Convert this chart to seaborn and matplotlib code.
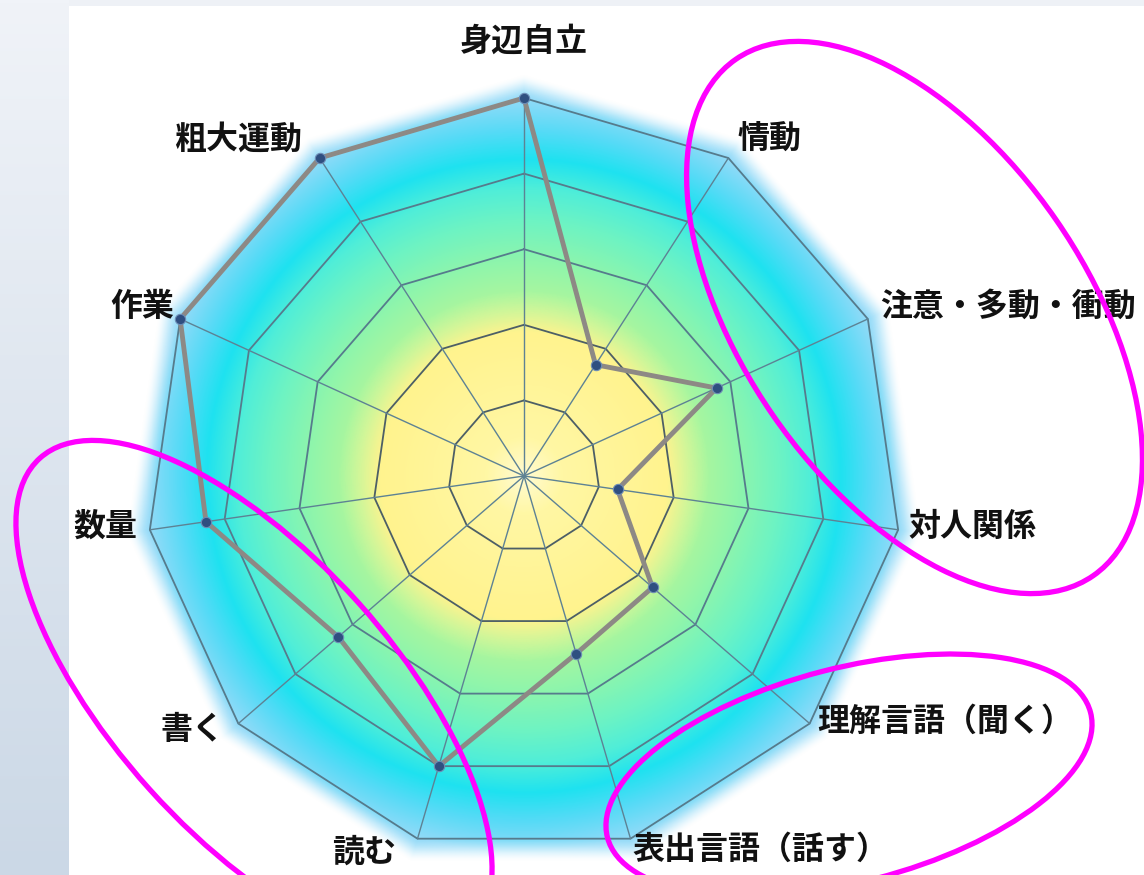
import numpy as np
import matplotlib
matplotlib.use("Agg")
import matplotlib.pyplot as plt
import seaborn as sns
from matplotlib.patches import Ellipse, Rectangle
from matplotlib.colors import LinearSegmentedColormap
from matplotlib.transforms import offset_copy

# ---------------- data ----------------
categories = ['身辺自立', '情動', '注意・多動・衝動', '対人関係', '理解言語（聞く）',
              '表出言語（話す）', '読む', '書く', '数量', '作業', '粗大運動']
values = [5.0, 1.75, 2.8, 1.25, 2.25, 2.45, 4.0, 3.25, 4.25, 5.0, 5.0]
ring_levels = [1, 2, 3, 4, 5]
r_max = 5

# ---------------- style ----------------
W, H, DPI = 1144, 875, 100
cx_px, cy_px, R_px = 524, 476, 378       # chart centre / outer radius (pixels)
r_lim = 5.5
label_offsets = [(0, 56, 'center'), (9, 18, 'left'), (12, 12, 'left'), (10, 3, 'left'),
                 (8, 2, 'left'), (2, -11, 'left'), (-21, -14, 'right'), (-14, -6, 'right'),
                 (-13, 3, 'right'), (-6, 12, 'right'), (-18, 18, 'right')]

sns.set_theme(style='white')
plt.rcParams['font.family'] = ['Noto Sans CJK JP', 'DejaVu Sans']

fig = plt.figure(figsize=(W / DPI, H / DPI), dpi=DPI)
fig.patch.set_facecolor('white')

# background (left strip + top strip)
bg = fig.add_axes([0, 0, 1, 1], zorder=0)
grad = np.linspace(0, 1, 256)[:, None]
bg.imshow(grad, extent=(0, 69, H, 0), aspect='auto',
          cmap=LinearSegmentedColormap.from_list('bg', ['#f0f3f8', '#cbd8e6']))
bg.add_patch(Rectangle((69, 0), W - 69, 6, color='#eef1f6', lw=0))
bg.set_xlim(0, W)
bg.set_ylim(H, 0)
bg.axis('off')

Rmax_px = R_px * r_lim / r_max
rect = [(cx_px - Rmax_px) / W, (H - cy_px - Rmax_px) / H, 2 * Rmax_px / W, 2 * Rmax_px / H]

n = len(categories)
angles = np.arange(n) * 2 * np.pi / n
step = 2 * np.pi / n

# radial colour gradient with soft polygon-shaped edge (cartesian underlay, same frame)
gax = fig.add_axes(rect, zorder=0.5)
N = 1000
g = np.linspace(-r_lim, r_lim, N)
X, Y = np.meshgrid(g, g)
RR = np.hypot(X, Y)
TH = np.arctan2(X, Y)
rel = np.mod(TH + step / 2, step) - step / 2
poly = np.cos(step / 2) / np.cos(step / 2 - np.abs(rel))
rp = RR / (r_max * poly)
grad_cmap = LinearSegmentedColormap.from_list('radar', [
    (0.00, '#fffbd2'), (0.10, '#fff7a4'), (0.38, '#fff38e'), (0.43, '#d6f698'),
    (0.49, '#a6f6a0'), (0.57, '#8ef5ac'), (0.68, '#6cf3c4'), (0.76, '#50eed8'),
    (0.84, '#1ee2f0'), (0.91, '#52dbf6'), (1.00, '#92daf8')])
C = grad_cmap(np.clip(RR / r_max, 0, 1))
t = np.clip((rp - 0.995) / 0.07, 0, 1)
C[..., 3] = 1 - t * t * (3 - 2 * t)
gax.imshow(C, extent=(-r_lim, r_lim, -r_lim, r_lim), origin='lower',
           interpolation='bilinear')
gax.set_xlim(-r_lim, r_lim)
gax.set_ylim(-r_lim, r_lim)
gax.axis('off')

# polar axes placed so that r=5 -> R_px
ax = fig.add_axes(rect, projection='polar', zorder=1)
ax.set_theta_zero_location('N')
ax.set_theta_direction(-1)
ax.set_facecolor('none')

# grid: polygon rings and spokes
closed = np.append(angles, angles[0])
for lev in ring_levels:
    col = '#4d5f66' if lev <= 2 else '#567b8c'
    ax.plot(closed, [lev] * (n + 1), color=col, lw=1.3, zorder=2)
for a in angles:
    ax.plot([a, a], [0, r_max], color='#5d8294', lw=1.0, zorder=2)

# data line + markers through seaborn
vals_closed = np.append(values, values[0])
sns.lineplot(x=closed, y=vals_closed, sort=False, estimator=None, ax=ax,
             color='#8d8985', lw=3.5, zorder=3)
sns.scatterplot(x=angles, y=values, ax=ax, s=55, color='#2f4f80',
                edgecolor='#6d8cb5', linewidth=0.8, zorder=4)

ax.set_ylim(0, r_lim)
ax.set_rorigin(0)
ax.grid(False)
ax.set_xticks([])
ax.set_yticks([])
ax.set_xlabel('')
ax.set_ylabel('')
ax.spines['polar'].set_visible(False)

# category labels
for a, lab, (dx, dy, ha) in zip(angles, categories, label_offsets):
    tr = offset_copy(ax.transData, fig=fig, x=dx, y=dy, units='dots')
    ax.text(a, r_max, lab, transform=tr, ha=ha, va='center', fontsize=23,
            color='#111111', fontweight='bold', clip_on=False, zorder=6)

# magenta annotation ellipses
ov = fig.add_axes([0, 0, 1, 1], zorder=3)
ov.set_xlim(0, W)
ov.set_ylim(H, 0)
ov.axis('off')
ov.patch.set_alpha(0)
for (ex, ey), ew, eh, ang in [((914.5, 317.5), 628, 344, 55.3),
                              ((254, 696), 640, 280, 48),
                              ((849, 775), 499, 214, -14.5)]:
    ov.add_patch(Ellipse((ex, ey), ew, eh, angle=ang, fill=False,
                         ec='#ff00ff', lw=3.8))

fig.savefig('out.png', dpi=DPI, facecolor=fig.get_facecolor())
